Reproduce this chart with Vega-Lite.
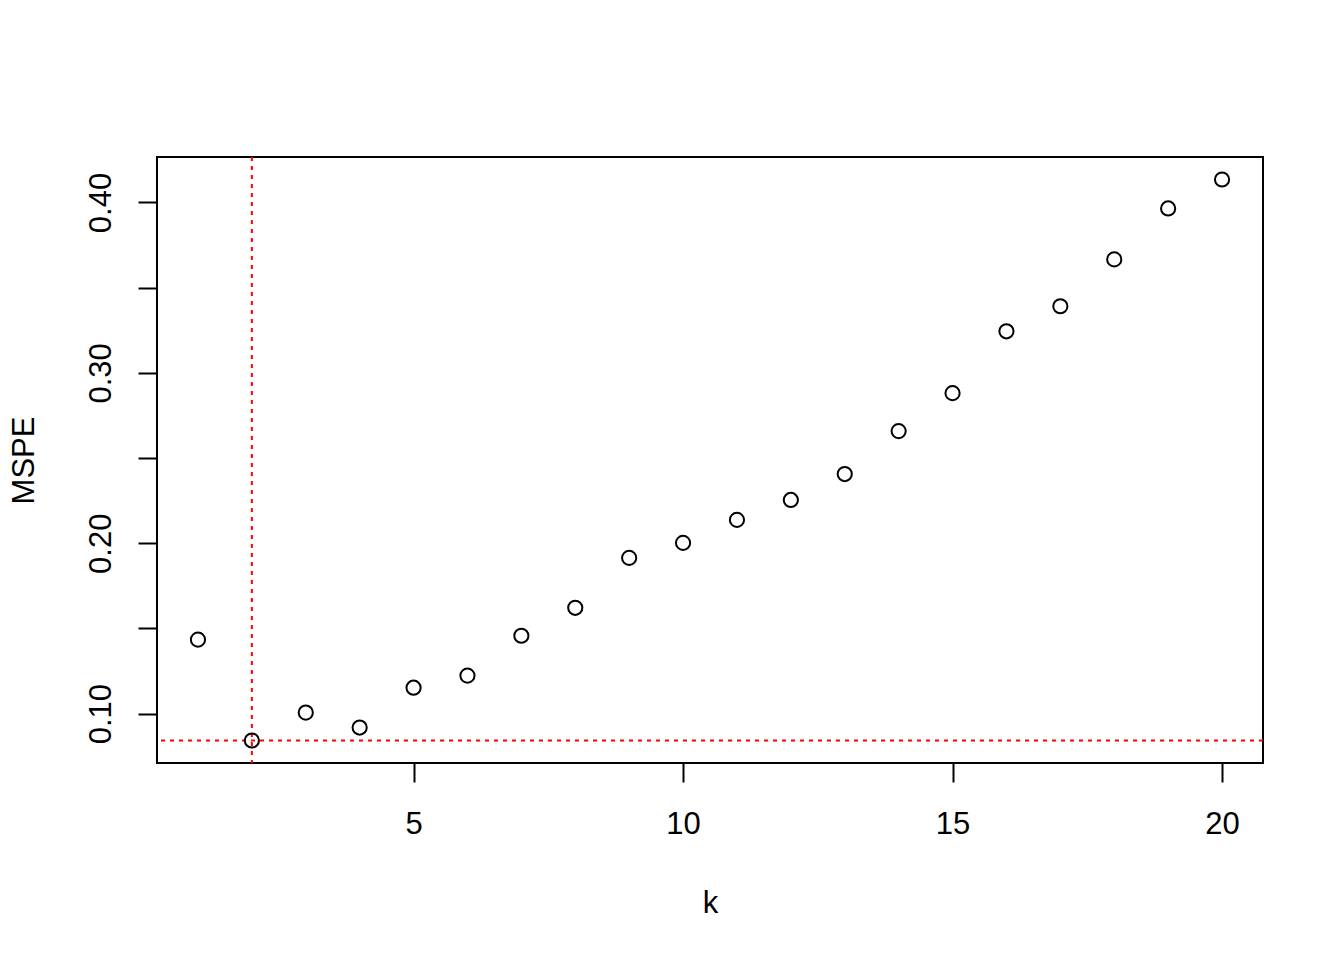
{
  "$schema": "https://vega.github.io/schema/vega-lite/v6.json",
  "width": 1106,
  "height": 606,
  "autosize": {"type": "none"},
  "padding": {"left": 157, "top": 157, "right": 81, "bottom": 197},
  "background": "white",
  "config": {
    "view": {"stroke": "black", "strokeWidth": 2},
    "font": "Liberation Sans",
    "axis": {
      "domain": false,
      "grid": false,
      "ticks": true,
      "tickSize": 19,
      "tickWidth": 2,
      "tickColor": "black",
      "labelFont": "Liberation Sans",
      "labelFontSize": 31,
      "labelColor": "black",
      "titleFont": "Liberation Sans",
      "titleFontSize": 31,
      "titleFontWeight": "normal",
      "titleColor": "black",
      "labelFlush": false,
      "labelOverlap": false
    }
  },
  "data": {
    "values": [
      {"k": 1, "MSPE": 0.1434},
      {"k": 2, "MSPE": 0.0842},
      {"k": 3, "MSPE": 0.1006},
      {"k": 4, "MSPE": 0.0918},
      {"k": 5, "MSPE": 0.1152},
      {"k": 6, "MSPE": 0.1223},
      {"k": 7, "MSPE": 0.1457},
      {"k": 8, "MSPE": 0.1621},
      {"k": 9, "MSPE": 0.1914},
      {"k": 10, "MSPE": 0.2002},
      {"k": 11, "MSPE": 0.2137},
      {"k": 12, "MSPE": 0.2254},
      {"k": 13, "MSPE": 0.2406},
      {"k": 14, "MSPE": 0.2658},
      {"k": 15, "MSPE": 0.2881},
      {"k": 16, "MSPE": 0.3244},
      {"k": 17, "MSPE": 0.3391},
      {"k": 18, "MSPE": 0.3666},
      {"k": 19, "MSPE": 0.3965},
      {"k": 20, "MSPE": 0.4135}
    ]
  },
  "layer": [
    {
      "transform": [{"filter": "datum.k == 2"}],
      "mark": {"type": "rule", "color": "red", "strokeWidth": 2, "strokeDash": [4, 5]},
      "encoding": {
        "x": {"field": "k", "type": "quantitative", "scale": {"domain": [0.24, 20.76], "nice": false, "zero": false}}
      }
    },
    {
      "transform": [{"filter": "datum.k == 2"}],
      "mark": {"type": "rule", "color": "red", "strokeWidth": 2, "strokeDash": [4, 5]},
      "encoding": {
        "y": {"field": "MSPE", "type": "quantitative", "scale": {"domain": [0.071, 0.4267], "nice": false, "zero": false}}
      }
    },
    {
      "mark": {"type": "point", "shape": "circle", "filled": false, "color": "black", "strokeWidth": 2, "size": 201, "opacity": 1},
      "encoding": {
        "x": {
          "field": "k", "type": "quantitative",
          "scale": {"domain": [0.24, 20.76], "nice": false, "zero": false},
          "axis": {
            "values": [5, 10, 15, 20],
            "title": "k",
            "labelBaseline": "alphabetic",
            "labelPadding": 51,
            "titleBaseline": "alphabetic",
            "titleX": 553,
            "titleY": 149,
            "titleAnchor": "middle"
          }
        },
        "y": {
          "field": "MSPE", "type": "quantitative",
          "scale": {"domain": [0.071, 0.4267], "nice": false, "zero": false},
          "axis": {
            "values": [0.1, 0.15, 0.2, 0.25, 0.3, 0.35, 0.4],
            "labelExpr": "round(datum.value*100) % 10 == 0 ? format(datum.value, '.2f') : ''",
            "labelAngle": -90,
            "labelAlign": "center",
            "labelBaseline": "alphabetic",
            "labelPadding": 28,
            "title": "MSPE",
            "titleAngle": -90,
            "titleAlign": "center",
            "titleBaseline": "alphabetic",
            "titleX": -124,
            "titleY": 303
          }
        }
      }
    }
  ]
}
